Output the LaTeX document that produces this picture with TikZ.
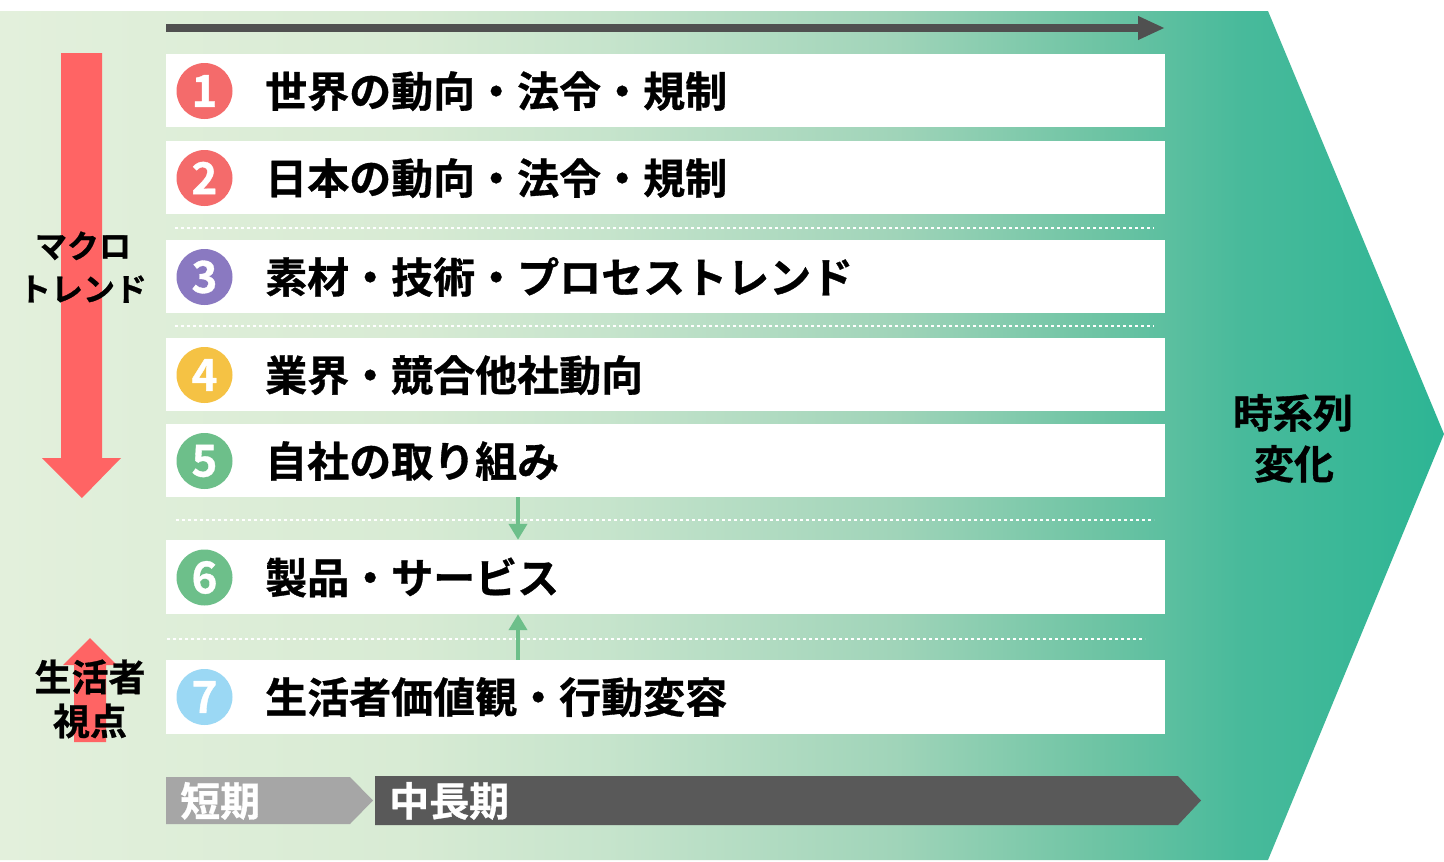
\documentclass[tikz,border=0pt]{standalone}
\usepackage{fontspec}
\newfontfamily\jp{Noto Sans CJK JP}[BoldFont={Noto Sans CJK JP Bold}, BoldFeatures={FakeBold=0.8}]
\usetikzlibrary{arrows.meta}
\definecolor{bg0}{HTML}{E3F0DC}
\definecolor{bg1}{HTML}{D8EBD4}
\definecolor{bg2}{HTML}{C6E4CC}
\definecolor{bg3}{HTML}{A0D4B9}
\definecolor{bg4}{HTML}{6EC4A4}
\definecolor{bg5}{HTML}{48BA9B}
\definecolor{bg6}{HTML}{2DB594}
\definecolor{redarrow}{HTML}{FF6464}
\definecolor{cred}{HTML}{F46B6B}
\definecolor{cpurple}{HTML}{8A79C1}
\definecolor{cyellow}{HTML}{F5C244}
\definecolor{cgreen}{HTML}{6DBF8A}
\definecolor{cblue}{HTML}{9BD8F4}
\definecolor{shortc}{HTML}{A6A6A6}
\definecolor{longc}{HTML}{595959}
\definecolor{topc}{HTML}{505050}
\pgfdeclarehorizontalshading{bgshade}{100bp}{color(0bp)=(bg0); color(25bp)=(bg0); color(39bp)=(bg1); color(46bp)=(bg2); color(56bp)=(bg3); color(63bp)=(bg4); color(68bp)=(bg5); color(75bp)=(bg6); color(100bp)=(bg6)}
\begin{document}
\begin{tikzpicture}[x=1pt,y=-1pt,
  rowbox/.style={fill=white, draw=none, minimum width=999pt, minimum height=73pt, inner sep=0pt},
  rowtext/.style={anchor=west, inner sep=0pt, text=black, font=\jp\bfseries\fontsize{42pt}{42pt}\selectfont, text height=37pt, text depth=5pt},
  numc/.style={circle, minimum size=56pt, inner sep=0pt, text=white, font=\jp\bfseries\fontsize{44pt}{44pt}\selectfont},
  sidetext/.style={inner sep=0pt, text=black, font=\jp\bfseries\fontsize{32pt}{32pt}\selectfont, text height=28pt, text depth=4pt},
  sidetextb/.style={inner sep=0pt, text=black, font=\jp\bfseries\fontsize{37pt}{37pt}\selectfont, text height=32pt, text depth=4pt},
  timetext/.style={inner sep=0pt, text=black, font=\jp\bfseries\fontsize{40pt}{40pt}\selectfont, text height=35pt, text depth=5pt},
  bartext/.style={anchor=west, inner sep=0pt, text=white, font=\jp\bfseries\fontsize{40pt}{40pt}\selectfont, text height=35pt, text depth=5pt},
  dotline/.style={draw=white, line width=2.5pt, dash pattern=on 3pt off 3pt},
  garrow/.style={draw=cgreen, line width=4pt, -{Triangle[width=18pt,length=16pt]}},
  toparrow/.style={draw=topc, line width=8pt, -{Triangle[width=22pt,length=27pt]}}
]
\useasboundingbox (0,0) rectangle (1444,862);
\fill[white] (0,0) rectangle (1444,862);
% background chevron
\shade[shading=bgshade] (0,11) -- (1268,11) -- (1444,434) -- (1268,860) -- (0,860) -- cycle;
% top arrow
\coordinate (tl) at (166,28);
\coordinate (tr) at (1165,28);
\draw[toparrow] (tl) -- (tr);
% red arrows
\fill[redarrow] (61,53) -- (102,53) -- (102,458) -- (121,458) -- (82,498) -- (42,458) -- (61,458) -- cycle;
\fill[redarrow] (90,638) -- (117,665) -- (106,665) -- (106,742) -- (74,742) -- (74,665) -- (63,665) -- cycle;
% rows
\node[rowbox] (r1) at (665.5,90.5) {};
\node[rowbox] (r2) at (665.5,177.5) {};
\node[rowbox] (r3) at (665.5,276.5) {};
\node[rowbox] (r4) at (665.5,374.5) {};
\node[rowbox] (r5) at (665.5,460.5) {};
\node[rowbox, minimum height=74pt] (r6) at (665.5,577) {};
\node[rowbox, minimum height=74pt] (r7) at (665.5,697) {};
% dotted separators
\draw[dotline] (175,228) -- (1154,228);
\draw[dotline] (175,326) -- (1154,326);
\draw[dotline] (176,520) -- (1154,520);
\draw[dotline] (167,639) -- (1145,639);
% number circles
\node[numc, fill=cred] (n1) at (204.5,91) {1};
\node[numc, fill=cred] (n2) at (204.5,178) {2};
\node[numc, fill=cpurple] (n3) at (204.5,277) {3};
\node[numc, fill=cyellow] (n4) at (204.5,375) {4};
\node[numc, fill=cgreen] (n5) at (204.5,461) {5};
\node[numc, fill=cgreen] (n6) at (204.5,577.5) {6};
\node[numc, fill=cblue] (n7) at (204.5,697) {7};
% row texts
\node[rowtext] (t1) at (265,91) {世界の動向・法令・規制};
\node[rowtext] (t2) at (265,178) {日本の動向・法令・規制};
\node[rowtext] (t3) at (265,277) {素材・技術・プロセストレンド};
\node[rowtext] (t4) at (265,375) {業界・競合他社動向};
\node[rowtext] (t5) at (265,461) {自社の取り組み};
\node[rowtext] (t6) at (265,577.5) {製品・サービス};
\node[rowtext] (t7) at (265,697) {生活者価値観・行動変容};
% green connectors
\coordinate (gx) at (518,0);
\draw[garrow] (r5.south -| gx) -- (r6.north -| gx);
\draw[garrow] (r7.north -| gx) -- (r6.south -| gx);
% side labels
\node[sidetext] (m1) at (83,246) {マクロ};
\node[sidetext] (m2) at (83,289) {トレンド};
\node[sidetextb] (s1) at (90,677) {生活者};
\node[sidetextb] (s2) at (90,721) {視点};
% time labels
\node[timetext] (z1) at (1293,413) {時系列};
\node[timetext] (z2) at (1294,464) {変化};
% bottom bars
\fill[shortc] (166,777) -- (350,777) -- (373,800.5) -- (350,824) -- (166,824) -- cycle;
\fill[longc] (375,776) -- (1178,776) -- (1201,800.5) -- (1178,825) -- (375,825) -- cycle;
\node[bartext] (b1) at (180,801) {短期};
\node[bartext] (b2) at (389,801) {中長期};
\end{tikzpicture}
\end{document}
